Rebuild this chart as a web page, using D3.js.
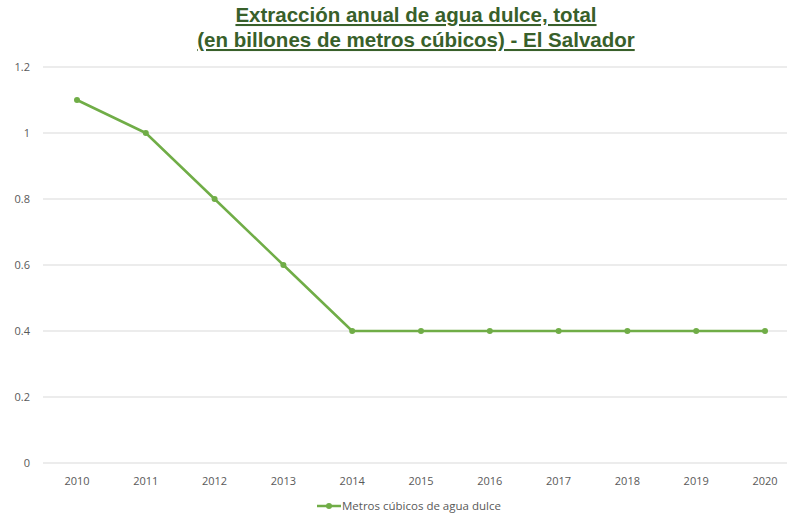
<!DOCTYPE html>
<html>
<head>
<meta charset="utf-8">
<script src="https://cdn.jsdelivr.net/npm/d3@7"></script>
<style>
  body { margin: 0; background: #fff; }
  svg { display: block; }
</style>
</head>
<body>
<svg id="chart" width="787" height="516"></svg>
<script>
const years = ["2010","2011","2012","2013","2014","2015","2016","2017","2018","2019","2020"];
const values = [1.1, 1.0, 0.8, 0.6, 0.4, 0.4, 0.4, 0.4, 0.4, 0.4, 0.4];
const yTicks = [0, 0.2, 0.4, 0.6, 0.8, 1, 1.2];
const titleLines = ["Extracción anual de agua dulce, total", "(en billones de metros cúbicos) - El Salvador"];
const seriesName = "Metros cúbicos de agua dulce";

const svg = d3.select("#chart");
const green = "#70ad47";

const x = d3.scalePoint().domain(years).range([77, 765]);
const y = d3.scaleLinear().domain([0, 1.2]).range([463, 67]);

// gridlines
svg.append("g").selectAll("line")
  .data(yTicks)
  .join("line")
  .attr("x1", 43).attr("x2", 787)
  .attr("y1", d => y(d)).attr("y2", d => y(d))
  .attr("stroke", "#d9d9d9").attr("stroke-width", 1);

// y labels
svg.append("g").selectAll("text")
  .data(yTicks)
  .join("text")
  .attr("x", 30).attr("y", d => y(d) + 4)
  .attr("text-anchor", "end")
  .attr("font-family", "Open Sans, Liberation Sans, sans-serif")
  .attr("font-size", 11).attr("fill", "#595959")
  .text(d => d);

// x labels
svg.append("g").selectAll("text")
  .data(years)
  .join("text")
  .attr("x", d => x(d)).attr("y", 485)
  .attr("text-anchor", "middle")
  .attr("font-family", "Open Sans, Liberation Sans, sans-serif")
  .attr("font-size", 11).attr("fill", "#595959")
  .text(d => d);

// line
const pts = years.map((yr, i) => ({yr, v: values[i]}));
svg.append("path")
  .datum(pts)
  .attr("fill", "none").attr("stroke", green).attr("stroke-width", 2.5)
  .attr("stroke-linejoin", "round")
  .attr("d", d3.line().x(d => x(d.yr)).y(d => y(d.v)));

svg.append("g").selectAll("circle")
  .data(pts)
  .join("circle")
  .attr("cx", d => x(d.yr)).attr("cy", d => y(d.v))
  .attr("r", 3).attr("fill", green);

// title
const title = svg.append("text")
  .attr("text-anchor", "middle")
  .attr("font-family", "Liberation Sans, Arial, sans-serif")
  .attr("font-weight", "bold").attr("font-size", 20.5)
  .attr("fill", "#38602a")
  .attr("text-decoration", "underline");
titleLines.forEach((t, i) => {
  title.append("tspan").attr("x", 416).attr("y", 22 + i * 25).text(t);
});

// legend
const lg = svg.append("g").attr("transform", "translate(317,506)");
lg.append("line").attr("x1", 0).attr("x2", 24).attr("y1", 0).attr("y2", 0)
  .attr("stroke", green).attr("stroke-width", 2.5);
lg.append("circle").attr("cx", 12).attr("cy", 0).attr("r", 3).attr("fill", green);
lg.append("text").attr("x", 25).attr("y", 4)
  .attr("font-family", "Open Sans, Liberation Sans, sans-serif")
  .attr("font-size", 11.5).attr("fill", "#595959")
  .text(seriesName);
</script>
</body>
</html>
